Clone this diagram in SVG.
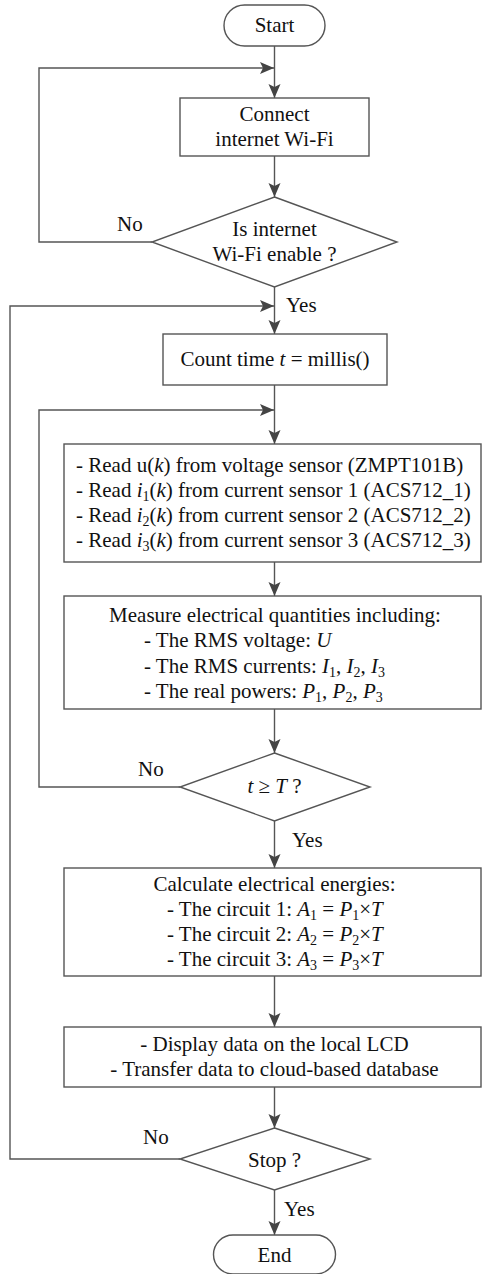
<svg xmlns="http://www.w3.org/2000/svg" width="482" height="1274" viewBox="0 0 482 1274">
<defs>
<marker id="ah" markerUnits="userSpaceOnUse" markerWidth="16" markerHeight="14" refX="14" refY="6" orient="auto">
<path d="M0,0 L14,6 L0,12 L3,6 Z" fill="#444"/>
</marker>
<style>
.box{fill:#fff;stroke:#555;stroke-width:1.4}
.ln{fill:none;stroke:#555;stroke-width:1.4}
text{font-family:"Liberation Serif","Times New Roman",serif;font-size:21px;fill:#111}
.c{text-anchor:middle}
.i{font-style:italic}
.s{font-size:14px}
</style>
</defs>
<rect width="482" height="1274" fill="#fff"/>
<g id="connectors">
<path class="ln" d="M274.5,46 V98" marker-end="url(#ah)"/>
<path class="ln" d="M152,242 H39 V68 H274" marker-end="url(#ah)"/>
<path class="ln" d="M274.5,156 V197" marker-end="url(#ah)"/>
<path class="ln" d="M274.5,287 V334" marker-end="url(#ah)"/>
<path class="ln" d="M180,1159 H10 V306 H274" marker-end="url(#ah)"/>
<path class="ln" d="M274.5,385 V444" marker-end="url(#ah)"/>
<path class="ln" d="M180,787 H39 V410 H274" marker-end="url(#ah)"/>
<path class="ln" d="M274.5,562 V596" marker-end="url(#ah)"/>
<path class="ln" d="M274.5,709 V753" marker-end="url(#ah)"/>
<path class="ln" d="M274.5,821 V868" marker-end="url(#ah)"/>
<path class="ln" d="M274.5,976 V1027" marker-end="url(#ah)"/>
<path class="ln" d="M274.5,1087 V1128" marker-end="url(#ah)"/>
<path class="ln" d="M274.5,1190 V1235" marker-end="url(#ah)"/>
<text x="117" y="231">No</text>
<text x="286" y="312">Yes</text>
<text x="138" y="776">No</text>
<text x="292" y="847">Yes</text>
<text x="143" y="1144">No</text>
<text x="284" y="1216">Yes</text>
</g>
<g id="start">
<rect class="box" x="224" y="5" width="101" height="41" rx="20.5"/>
<text class="c" x="274.5" y="32">Start</text>
</g>
<g id="connect">
<rect class="box" x="180" y="98" width="189" height="58"/>
<text class="c" x="274.5" y="121">Connect</text>
<text class="c" x="274.5" y="146">internet Wi-Fi</text>
</g>
<g id="wifi-check">
<polygon class="box" points="274.5,197 397,242 274.5,287 152,242"/>
<text class="c" x="274.5" y="236">Is internet</text>
<text class="c" x="274.5" y="261">Wi-Fi enable ?</text>
</g>
<g id="count">
<rect class="box" x="163" y="334" width="224" height="51"/>
<text class="c" x="275" y="366">Count time <tspan class="i">t</tspan> = millis()</text>
</g>
<g id="read">
<rect class="box" x="64" y="444" width="417" height="118"/>
<text x="76" y="472">- Read u(<tspan class="i">k</tspan>) from voltage sensor (ZMPT101B)</text>
<text x="76" y="497">- Read <tspan class="i">i</tspan><tspan class="s" dy="4">1</tspan><tspan dy="-4">(</tspan><tspan class="i">k</tspan>) from current sensor 1 (ACS712_1)</text>
<text x="76" y="522">- Read <tspan class="i">i</tspan><tspan class="s" dy="4">2</tspan><tspan dy="-4">(</tspan><tspan class="i">k</tspan>) from current sensor 2 (ACS712_2)</text>
<text x="76" y="547">- Read <tspan class="i">i</tspan><tspan class="s" dy="4">3</tspan><tspan dy="-4">(</tspan><tspan class="i">k</tspan>) from current sensor 3 (ACS712_3)</text>
</g>
<g id="measure">
<rect class="box" x="64" y="596" width="417" height="113"/>
<text class="c" x="275" y="622">Measure electrical quantities including:</text>
<text x="144" y="647">- The RMS voltage: <tspan class="i">U</tspan></text>
<text x="144" y="673">- The RMS currents: <tspan class="i">I</tspan><tspan class="s" dy="4">1</tspan><tspan dy="-4">, </tspan><tspan class="i">I</tspan><tspan class="s" dy="4">2</tspan><tspan dy="-4">, </tspan><tspan class="i">I</tspan><tspan class="s" dy="4">3</tspan></text>
<text x="144" y="698">- The real powers: <tspan class="i">P</tspan><tspan class="s" dy="4">1</tspan><tspan dy="-4">, </tspan><tspan class="i">P</tspan><tspan class="s" dy="4">2</tspan><tspan dy="-4">, </tspan><tspan class="i">P</tspan><tspan class="s" dy="4">3</tspan></text>
</g>
<g id="time-check">
<polygon class="box" points="274.5,753 370,787 274.5,821 180,787"/>
<text class="c" x="274.5" y="793"><tspan class="i">t</tspan> ≥ <tspan class="i">T</tspan> ?</text>
</g>
<g id="calculate">
<rect class="box" x="64" y="868" width="417" height="108"/>
<text class="c" x="274.5" y="891">Calculate electrical energies:</text>
<text x="167" y="916">- The circuit 1: <tspan class="i">A</tspan><tspan class="s" dy="4">1</tspan><tspan dy="-4"> = </tspan><tspan class="i">P</tspan><tspan class="s" dy="4">1</tspan><tspan dy="-4">×</tspan><tspan class="i">T</tspan></text>
<text x="167" y="941">- The circuit 2: <tspan class="i">A</tspan><tspan class="s" dy="4">2</tspan><tspan dy="-4"> = </tspan><tspan class="i">P</tspan><tspan class="s" dy="4">2</tspan><tspan dy="-4">×</tspan><tspan class="i">T</tspan></text>
<text x="167" y="966">- The circuit 3: <tspan class="i">A</tspan><tspan class="s" dy="4">3</tspan><tspan dy="-4"> = </tspan><tspan class="i">P</tspan><tspan class="s" dy="4">3</tspan><tspan dy="-4">×</tspan><tspan class="i">T</tspan></text>
</g>
<g id="display">
<rect class="box" x="64" y="1027" width="417" height="60"/>
<text class="c" x="274.5" y="1051">- Display data on the local LCD</text>
<text class="c" x="274.5" y="1076">- Transfer data to cloud-based database</text>
</g>
<g id="stop-check">
<polygon class="box" points="274.5,1128 370,1159 274.5,1190 180,1159"/>
<text class="c" x="274.5" y="1167">Stop ?</text>
</g>
<g id="end">
<rect class="box" x="213.5" y="1235" width="122" height="39" rx="19.5"/>
<text class="c" x="274.5" y="1262">End</text>
</g>
</svg>
